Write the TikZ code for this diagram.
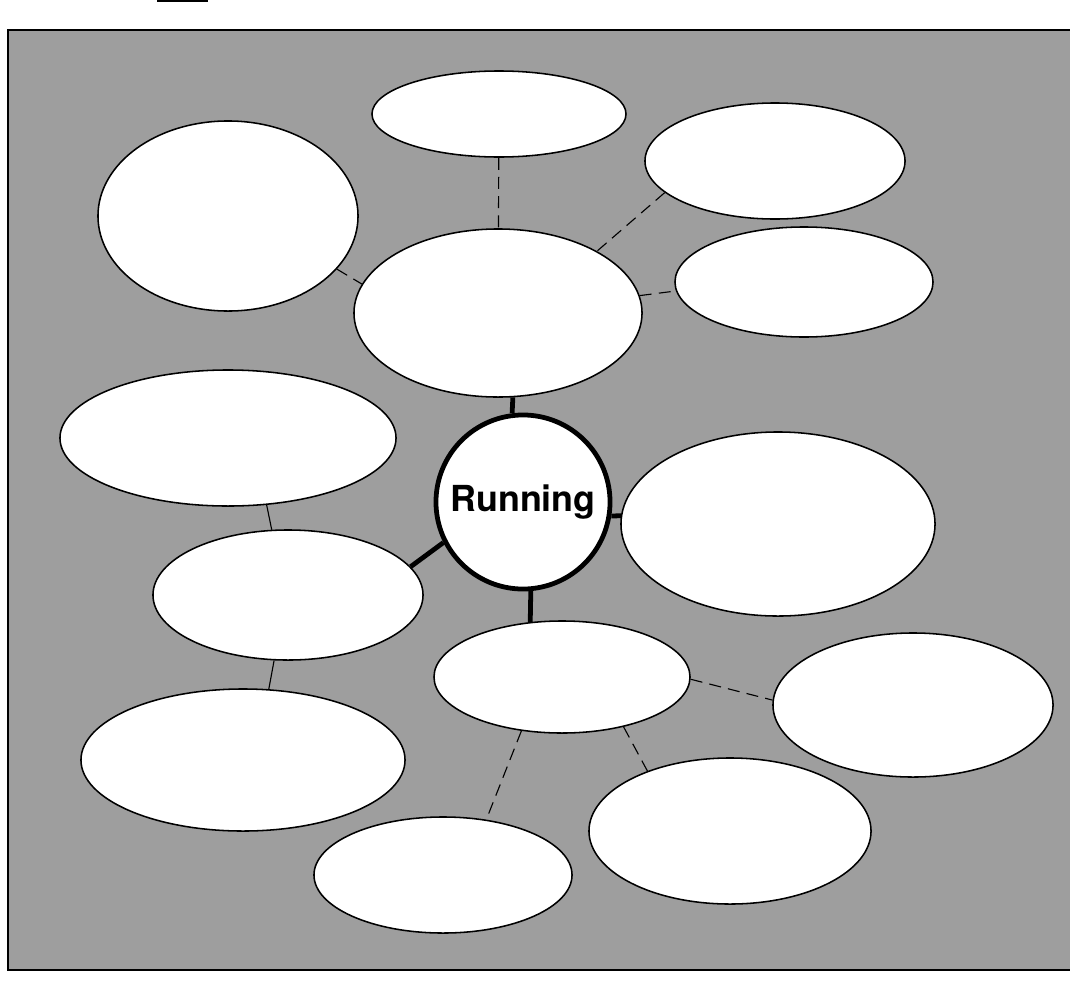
\documentclass[tikz,border=0pt]{standalone}
\usepackage{fontspec}
\setsansfont{TeX Gyre Heros}
\usetikzlibrary{shapes.geometric}
\definecolor{paper}{gray}{0.62}
\begin{document}
\begin{tikzpicture}[x=0.025cm, y=-0.025cm,
    bubble/.style 2 args={ellipse, draw, fill=white, line width=1.1pt,
                  inner sep=0pt, minimum width=#1*0.5mm, minimum height=#2*0.5mm},
    core/.style={circle, draw, fill=white, line width=3.4pt, inner sep=0pt,
                  minimum size=4.35cm, font=\sffamily\bfseries\fontsize{25.5}{30}\selectfont},
    link/.style={line width=3.4pt},
    tie/.style={line width=0.8pt},
    hint/.style={line width=0.8pt, dash pattern=on 3mm off 1.8mm}]
  \useasboundingbox (0,0) rectangle (1070,980);
  \fill[paper] (8,30) rectangle (1070,970);
  \draw[line width=0.9pt] (1070,30) -- (8,30) -- (8,970) -- (1070,970);
  \draw[line width=1pt] (157,1) -- (208,1);
  % the bubbles
  \node[core] (run) at (523,502) {Running};
  \node[bubble={127}{43}]  (top)      at (499,114) {};
  \node[bubble={130}{58}]  (topright) at (775,161) {};
  \node[bubble={130}{95}]  (topleft)  at (228,216) {};
  \node[bubble={144}{84}]  (hub)      at (498,313) {};
  \node[bubble={129}{55}]  (rightup)  at (804,282) {};
  \node[bubble={168}{68}]  (leftup)   at (228,438) {};
  \node[bubble={157}{92}]  (rightmid) at (778,524) {};
  \node[bubble={135}{65}]  (leftmid)  at (288,595) {};
  \node[bubble={128}{56}]  (below)    at (562,677) {};
  \node[bubble={140}{72}]  (rightlow) at (913,705) {};
  \node[bubble={162}{71}]  (leftlow)  at (243,760) {};
  \node[bubble={141}{73}]  (lowright) at (730,831) {};
  \node[bubble={129}{58}]  (low)      at (443,875) {};
  % spokes from the centre
  \draw[link] (run.97)   -- (hub.-80);
  \draw[link] (run.-9)   -- (rightmid.177);
  \draw[link] (run.-153) -- (leftmid.13);
  \draw[link] (run.-85)  -- (below.120);
  % dashed branches
  \draw[hint] (top) -- (hub);
  \draw[hint] (topright.196) -- (hub.32);
  \draw[hint] (topleft.-26) -- (hub.168);
  \draw[hint] (hub.7) -- (rightup.184);
  \draw[hint] (below.-1) -- (rightlow.178);
  \draw[hint] (below.-127) -- (low.52);
  \draw[hint] (below.-39) -- (lowright.144);
  % plain ties on the left
  \draw[tie] (leftup.-60) -- (leftmid.104);
  \draw[tie] (leftmid.-102) -- (leftlow.70);
\end{tikzpicture}
\end{document}
